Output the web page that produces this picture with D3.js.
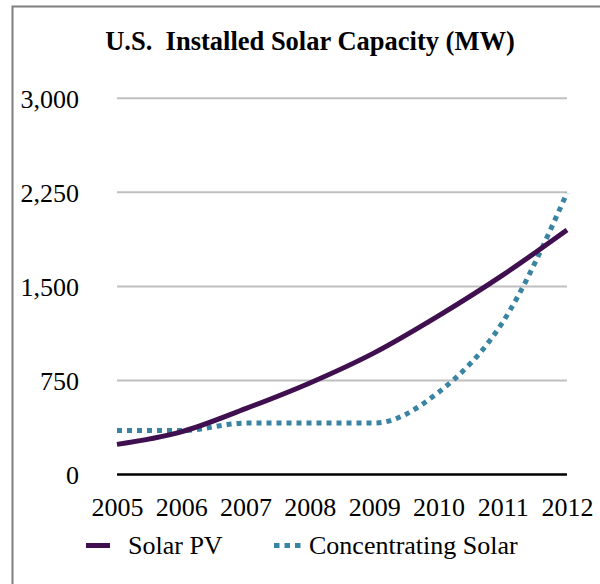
<!DOCTYPE html>
<html><head><meta charset="utf-8">
<script src="https://cdn.jsdelivr.net/npm/d3@7"></script>
<style>html,body{margin:0;padding:0;background:#fff;}</style>
</head><body>
<svg id="chart" width="600" height="584"></svg>
<script>
const years = [2005, 2006, 2007, 2008, 2009, 2010, 2011, 2012];
const solarPV = [240, 340, 525, 730, 970, 1265, 1590, 1950];
const concentrating = [350, 350, 410, 410, 410, 655, 1215, 2245];
const yTicks = [0, 750, 1500, 2250, 3000];
const seriesNames = ["Solar PV", "Concentrating Solar"];
const title = "U.S.  Installed Solar Capacity (MW)";

const svg = d3.select("#chart");
const font = "'Liberation Serif', 'Times New Roman', serif";

// outer frame (left and top edges visible)
svg.append("rect").attr("x", 12.5).attr("y", 6.5).attr("width", 620).attr("height", 620)
  .attr("fill", "none").attr("stroke", "#7f7f7f").attr("stroke-width", 2);

const x = d3.scalePoint().domain(years).range([117, 567]);
const y = d3.scaleLinear().domain([0, 3000]).range([474.5, 98.3]);

// gridlines
svg.append("g").selectAll("line").data(yTicks.filter(d => d > 0)).join("line")
  .attr("x1", 117).attr("x2", 567)
  .attr("y1", d => y(d)).attr("y2", d => y(d))
  .attr("stroke", "#bfbfbf").attr("stroke-width", 2);

// y axis labels
const yAxis = d3.axisLeft(y).tickValues(yTicks).tickSize(0).tickPadding(0)
  .tickFormat(d3.format(","));
const gy = svg.append("g").attr("transform", "translate(79,0)").call(yAxis);
gy.select(".domain").remove();
gy.selectAll("text").attr("font-family", font).attr("font-size", 26).attr("fill", "#000")
  .attr("dy", "0.36em");

// x axis
const xAxis = d3.axisBottom(x).tickSize(0).tickPadding(0).tickFormat(d3.format("d"));
const gx = svg.append("g").attr("transform", "translate(0,474.5)").call(xAxis);
gx.select(".domain").remove();
gx.selectAll("text").attr("font-family", font).attr("font-size", 26).attr("fill", "#000")
  .attr("dy", null).attr("y", 41);
svg.append("line").attr("x1", 117).attr("x2", 567).attr("y1", 474.5).attr("y2", 474.5)
  .attr("stroke", "#000").attr("stroke-width", 2.5);

const line = d3.line().x((d, i) => x(years[i])).y(d => y(d)).curve(d3.curveMonotoneX);

svg.append("path").datum(concentrating).attr("d", line)
  .attr("fill", "none").attr("stroke", "#3a84a3").attr("stroke-width", 5)
  .attr("stroke-dasharray", "5,5");
svg.append("path").datum(solarPV).attr("d", line)
  .attr("fill", "none").attr("stroke", "#3f0f4f").attr("stroke-width", 5);

// title
svg.append("text").attr("x", 310).attr("y", 50).attr("text-anchor", "middle")
  .attr("font-family", font).attr("font-weight", "bold").attr("font-size", 26.5)
  .attr("xml:space", "preserve").style("white-space", "pre").text(title);

// legend
const lg = svg.append("g");
lg.append("line").attr("x1", 86).attr("x2", 110).attr("y1", 545.5).attr("y2", 545.5)
  .attr("stroke", "#3f0f4f").attr("stroke-width", 5);
lg.append("text").attr("x", 128).attr("y", 554).attr("font-family", font).attr("font-size", 26)
  .text(seriesNames[0]);
lg.append("line").attr("x1", 274).attr("x2", 302).attr("y1", 545.5).attr("y2", 545.5)
  .attr("stroke", "#3a84a3").attr("stroke-width", 5).attr("stroke-dasharray", "5.5,5");
lg.append("text").attr("x", 309).attr("y", 554).attr("font-family", font).attr("font-size", 26)
  .text(seriesNames[1]);
</script>
</body></html>
